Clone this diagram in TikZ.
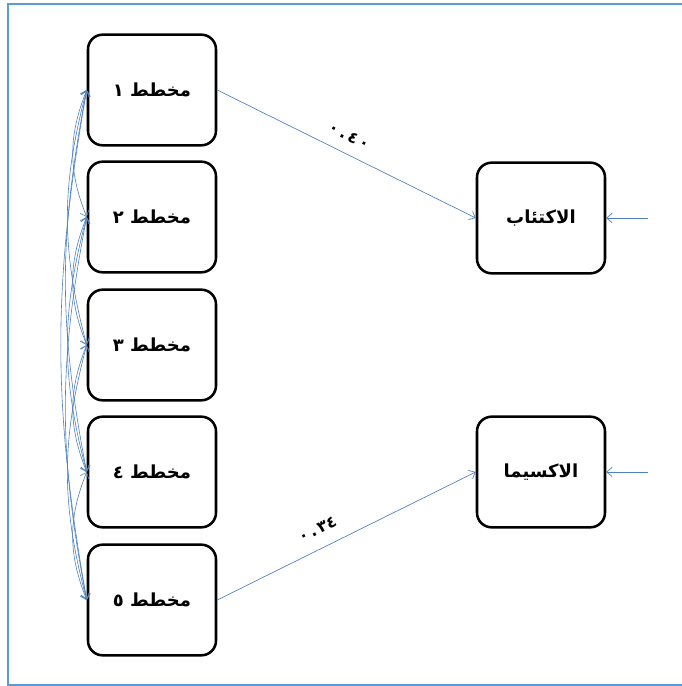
\documentclass[tikz,border=0pt]{standalone}
\usepackage{fontspec}
\newfontfamily\arabicfont[Script=Arabic]{DejaVu Sans}
\TeXXeTstate=1
\usetikzlibrary{arrows.meta}
\definecolor{lineblue}{RGB}{79,129,189}
\definecolor{frameblue}{RGB}{91,155,213}
\tikzset{
  box/.style={draw=black, line width=1.9pt, rounded corners=11pt, minimum width=96pt, minimum height=83pt, inner sep=0pt, font=\arabicfont\bfseries\fontsize{13.5}{15}\selectfont},
  arr/.style={draw=lineblue, line width=0.5pt, -{Straight Barb[length=4pt,width=7pt]}},
  cov/.style={draw=lineblue, line width=0.45pt, {Straight Barb[length=4pt,width=7pt]}-{Straight Barb[length=4pt,width=7pt]}},
  lab/.style={font=\arabicfont\bfseries\fontsize{12}{14}\selectfont, inner sep=1pt},
  frame/.style={draw=frameblue, line width=1.4pt}
}
\begin{document}
\begin{tikzpicture}[x=0.75pt, y=-0.75pt]
\useasboundingbox (0,0) rectangle (682,686);
\fill[white] (0,0) rectangle (682,686);
\draw[frame] (695,4) -- (8,4) -- (8,685) -- (695,685);
\node[box] (b1) at (152,90) {\beginR مخطط ١\endR};
\node[box] (b2) at (152,217) {\beginR مخطط ٢\endR};
\node[box] (b3) at (152,345) {\beginR مخطط ٣\endR};
\node[box] (b4) at (152,472) {\beginR مخطط ٤\endR};
\node[box] (b5) at (152,600) {\beginR مخطط ٥\endR};
\node[box] (A) at (541,218) {\beginR الاكتئاب\endR};
\node[box] (B) at (541,472) {\beginR الاكسيما\endR};
\coordinate (ea) at (648,218);
\coordinate (eb) at (648,472);
\draw[arr] (b1.east) -- node[pos=0.48, sloped, above=8pt, lab] {٠\,.\,٤\,٠} (A.west);
\draw[arr] (b5.east) -- node[pos=0.42, sloped, above=9pt, lab] {٠\,.\,٣٤} (B.west);
\draw[arr] (ea) -- (A.east);
\draw[arr] (eb) -- (B.east);
% covariances
\draw[cov] (b1.west) to[bend right=22] (b2.west);
\draw[cov] (b2.west) to[bend right=22] (b3.west);
\draw[cov] (b3.west) to[bend right=22] (b4.west);
\draw[cov] (b4.west) to[bend right=22] (b5.west);
\draw[cov] (b1.west) to[bend right=15] (b3.west);
\draw[cov] (b2.west) to[bend right=15] (b4.west);
\draw[cov] (b3.west) to[bend right=15] (b5.west);
\draw[cov] (b1.west) to[bend right=11] (b4.west);
\draw[cov] (b2.west) to[bend right=11] (b5.west);
\draw[cov] (b1.west) to[bend right=10] (b5.west);
\end{tikzpicture}
\end{document}
